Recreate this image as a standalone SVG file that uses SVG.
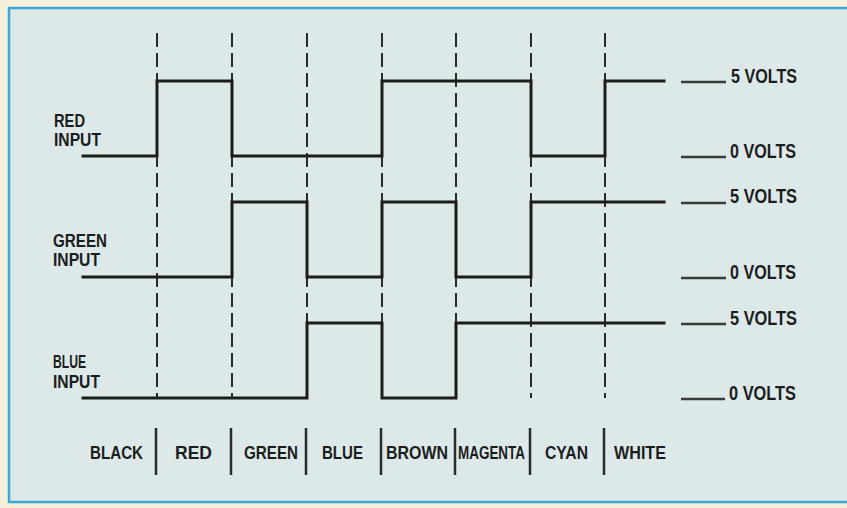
<svg xmlns="http://www.w3.org/2000/svg" width="847" height="508" viewBox="0 0 847 508">
<style>
.wave{fill:none;stroke:#1b1d1d;stroke-width:3;stroke-linejoin:miter;stroke-linecap:square}
.dash{stroke:#2a2c2c;stroke-width:2;stroke-dasharray:14 6}
.sep{stroke:#2a2c2c;stroke-width:2.5}
.lvl{stroke:#3a3c3c;stroke-width:2.5}
text{font-family:"Liberation Sans",Arial,sans-serif;font-weight:bold;fill:#1b1d1d}
.in{font-size:19px}
.col{font-size:19px;text-anchor:middle}
.volt{font-size:20px}
</style>
<rect x="0" y="0" width="847" height="508" fill="#f4f0dc"/>
<rect id="panel" x="9" y="8" width="850" height="494" fill="#dde9e9" stroke="#39a7d7" stroke-width="2.5"/>
<g id="connectors">
<g id="grid">
<line class="dash" x1="157" y1="33" x2="157" y2="398"/>
<line class="dash" x1="232" y1="33" x2="232" y2="398"/>
<line class="dash" x1="307" y1="33" x2="307" y2="398"/>
<line class="dash" x1="382" y1="33" x2="382" y2="398"/>
<line class="dash" x1="456" y1="33" x2="456" y2="398"/>
<line class="dash" x1="531" y1="33" x2="531" y2="398"/>
<line class="dash" x1="605" y1="33" x2="605" y2="398"/>
</g>
<g id="separators">
<line class="sep" x1="156" y1="428" x2="156" y2="475"/>
<line class="sep" x1="231" y1="428" x2="231" y2="475"/>
<line class="sep" x1="306" y1="428" x2="306" y2="475"/>
<line class="sep" x1="381" y1="428" x2="381" y2="475"/>
<line class="sep" x1="455" y1="428" x2="455" y2="475"/>
<line class="sep" x1="530" y1="428" x2="530" y2="475"/>
<line class="sep" x1="604" y1="428" x2="604" y2="475"/>
</g>
<g id="levels">
<line class="lvl" x1="681" y1="82" x2="726" y2="82"/>
<line class="lvl" x1="681" y1="157" x2="726" y2="157"/>
<line class="lvl" x1="681" y1="203" x2="726" y2="203"/>
<line class="lvl" x1="681" y1="278" x2="726" y2="278"/>
<line class="lvl" x1="681" y1="324" x2="726" y2="324"/>
<line class="lvl" x1="681" y1="399" x2="725" y2="399"/>
</g>
</g>
<g id="red-wave"><path class="wave" d="M83 156H157V81H232V156H382V81H531V156H605V81H664"/></g>
<g id="green-wave"><path class="wave" d="M83 277H232V202H307V277H382V202H456V277H531V202H664"/></g>
<g id="blue-wave"><path class="wave" d="M83 398H307V323H382V398H456V323H664"/></g>
<g id="red-input"><text class="in" x="54" y="127" textLength="31" lengthAdjust="spacingAndGlyphs">RED</text><text class="in" x="54" y="146" textLength="47" lengthAdjust="spacingAndGlyphs">INPUT</text></g>
<g id="green-input"><text class="in" x="53" y="247" textLength="54" lengthAdjust="spacingAndGlyphs">GREEN</text><text class="in" x="53" y="266" textLength="47" lengthAdjust="spacingAndGlyphs">INPUT</text></g>
<g id="blue-input"><text class="in" x="53" y="368" textLength="33" lengthAdjust="spacingAndGlyphs">BLUE</text><text class="in" x="53" y="388" textLength="47" lengthAdjust="spacingAndGlyphs">INPUT</text></g>
<g id="volt-labels">
<text class="volt" x="731" y="83" textLength="66" lengthAdjust="spacingAndGlyphs">5 VOLTS</text>
<text class="volt" x="730" y="158" textLength="66" lengthAdjust="spacingAndGlyphs">0 VOLTS</text>
<text class="volt" x="730" y="203" textLength="67" lengthAdjust="spacingAndGlyphs">5 VOLTS</text>
<text class="volt" x="730" y="279" textLength="66" lengthAdjust="spacingAndGlyphs">0 VOLTS</text>
<text class="volt" x="730" y="325" textLength="67" lengthAdjust="spacingAndGlyphs">5 VOLTS</text>
<text class="volt" x="729" y="400" textLength="67" lengthAdjust="spacingAndGlyphs">0 VOLTS</text>
</g>
<g id="colour-labels">
<text class="col" transform="translate(116.5 459) scale(0.75 1)" textLength="70.7" lengthAdjust="spacingAndGlyphs">BLACK</text>
<text class="col" transform="translate(193.5 459) scale(0.75 1)" textLength="49.3" lengthAdjust="spacingAndGlyphs">RED</text>
<text class="col" transform="translate(271 459) scale(0.75 1)" textLength="72" lengthAdjust="spacingAndGlyphs">GREEN</text>
<text class="col" transform="translate(342.5 459) scale(0.75 1)" textLength="54.7" lengthAdjust="spacingAndGlyphs">BLUE</text>
<text class="col" transform="translate(417 459) scale(0.75 1)" textLength="82.7" lengthAdjust="spacingAndGlyphs">BROWN</text>
<text class="col" transform="translate(491.5 459) scale(0.75 1)" textLength="89.3" lengthAdjust="spacingAndGlyphs">MAGENTA</text>
<text class="col" transform="translate(566.5 459) scale(0.75 1)" textLength="57.3" lengthAdjust="spacingAndGlyphs">CYAN</text>
<text class="col" transform="translate(640 459) scale(0.75 1)" textLength="69.3" lengthAdjust="spacingAndGlyphs">WHITE</text>
</g>
</svg>
